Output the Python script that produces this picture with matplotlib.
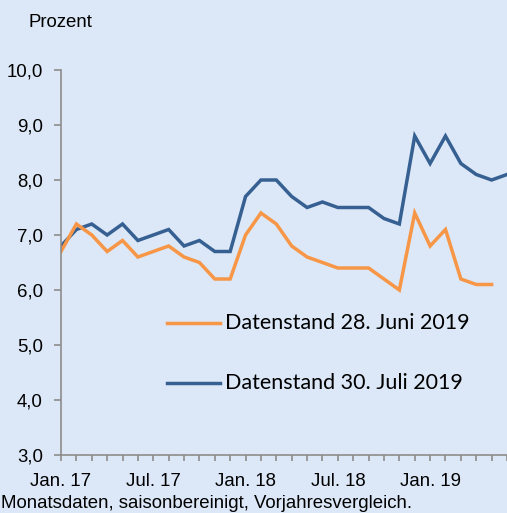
import numpy as np
import matplotlib
matplotlib.use("Agg")
from matplotlib import pyplot as plt

# Monate ab Jan. 2017 (0) bis Jun. 2019 (29)
MONTHS = np.arange(30)
JUNI_2019 = [6.7, 7.2, 7.0, 6.7, 6.9, 6.6, 6.7, 6.8, 6.6, 6.5, 6.2, 6.2,
             7.0, 7.4, 7.2, 6.8, 6.6, 6.5, 6.4, 6.4, 6.4, 6.2, 6.0,
             7.4, 6.8, 7.1, 6.2, 6.1, 6.1]
JULI_2019 = [6.8, 7.1, 7.2, 7.0, 7.2, 6.9, 7.0, 7.1, 6.8, 6.9, 6.7, 6.7,
             7.7, 8.0, 8.0, 7.7, 7.5, 7.6, 7.5, 7.5, 7.5, 7.3, 7.2,
             8.8, 8.3, 8.8, 8.3, 8.1, 8.0, 8.1]
TICK_POS = [0, 6, 12, 18, 24]
TICK_LABELS = ["Jan. 17", "Jul. 17", "Jan. 18", "Jul. 18", "Jan. 19"]
Y_TICKS = [3, 4, 5, 6, 7, 8, 9, 10]
LABEL_JUNI = "Datenstand 28. Juni 2019"
LABEL_JULI = "Datenstand 30. Juli 2019"

BG = "#dce8f7"
ORANGE = "#f79646"
BLUE = "#376092"
GREY = "#8c8c8c"
W, H = 507, 513
FS = 13.4

plt.rcParams['font.family'] = ['Liberation Sans', 'DejaVu Sans']

fig = plt.figure(figsize=(W / 100, H / 100), dpi=100, facecolor=BG)
ax = fig.add_axes([61 / W, 1 - 455 / H, (W - 61) / W, (455 - 70) / H])
ax.set_facecolor(BG)

ax.plot(MONTHS[:len(JULI_2019)], JULI_2019, color=BLUE, lw=2.5, solid_joinstyle="miter")
ax.plot(MONTHS[:len(JUNI_2019)], JUNI_2019, color=ORANGE, lw=2.5, solid_joinstyle="miter")

ax.set_xlim(0, 29)
ax.set_ylim(3, 10)

for s in ["top", "right"]:
    ax.spines[s].set_visible(False)
for s in ["left", "bottom"]:
    ax.spines[s].set_color(GREY)
    ax.spines[s].set_linewidth(1.2)

ax.set_yticks(Y_TICKS)
ax.set_yticklabels([f"{v:.1f}".replace(".", ",") for v in Y_TICKS])
ax.set_xticks(TICK_POS)
ax.set_xticklabels(TICK_LABELS)
ax.set_xticks(MONTHS, minor=True)
ax.tick_params(axis="y", direction="out", length=5, width=1.2, color=GREY,
               labelsize=FS, pad=8)
ax.tick_params(axis="x", which="both", direction="out", length=4, width=1.2,
               color=GREY, labelsize=FS, pad=9)

# Legende von Hand
leg_font = ['Lato', 'DejaVu Sans']
for ly, col, lab in [(323, ORANGE, LABEL_JUNI), (383, BLUE, LABEL_JULI)]:
    fig.add_artist(plt.Line2D([167 / W, 220 / W], [1 - ly / H] * 2,
                              color=col, lw=2.5, transform=fig.transFigure))
    fig.text(225 / W, 1 - ly / H, lab, fontsize=15.5, family=leg_font,
             va="center", ha="left")

fig.text(29 / W, 1 - 23 / H, "Prozent", fontsize=FS, va="center", ha="left")
fig.text(1 / W, 1 - 503 / H, "Monatsdaten, saisonbereinigt, Vorjahresvergleich.",
         fontsize=FS, va="center", ha="left")

fig.savefig("out.png", dpi=100, facecolor=BG)
